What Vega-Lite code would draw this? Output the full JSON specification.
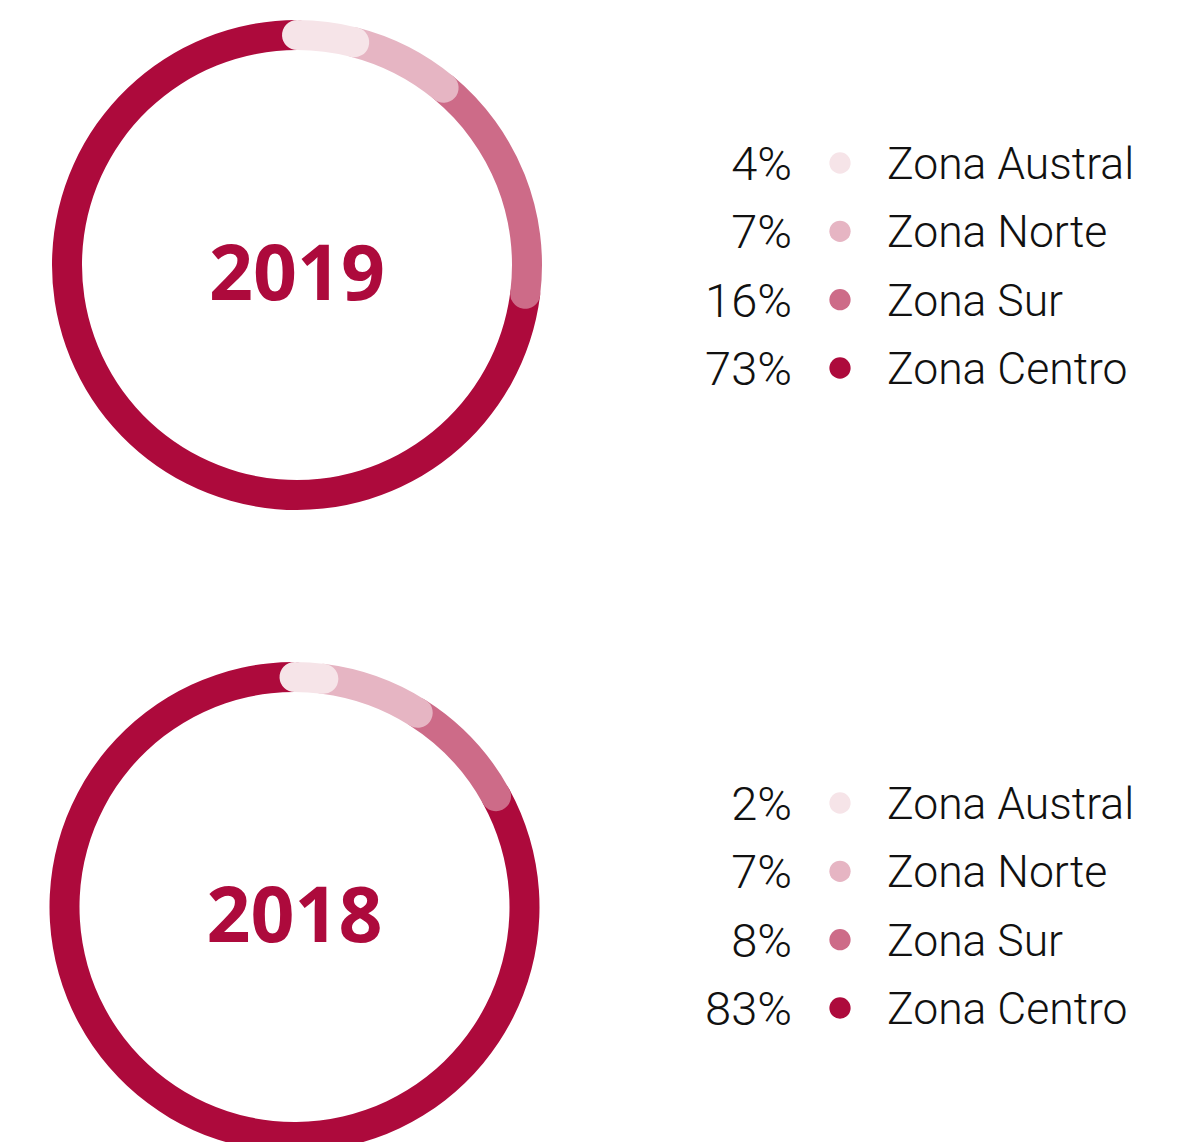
{
  "$schema": "https://vega.github.io/schema/vega-lite/v6.json",
  "padding": 0,
  "background": "white",
  "config": {"view": {"stroke": null}},
  "data": {"values": [
    {"year": 2019, "zone": "Zona Austral", "share": 0.04, "ord": 1},
    {"year": 2019, "zone": "Zona Norte", "share": 0.07, "ord": 2},
    {"year": 2019, "zone": "Zona Sur", "share": 0.16, "ord": 3},
    {"year": 2019, "zone": "Zona Centro", "share": 0.73, "ord": 4},
    {"year": 2018, "zone": "Zona Austral", "share": 0.02, "ord": 1},
    {"year": 2018, "zone": "Zona Norte", "share": 0.07, "ord": 2},
    {"year": 2018, "zone": "Zona Sur", "share": 0.08, "ord": 3},
    {"year": 2018, "zone": "Zona Centro", "share": 0.83, "ord": 4}
  ]},
  "spacing": 112,
  "vconcat": [
    {
      "bounds": "flush",
      "spacing": 196,
      "hconcat": [
        {
          "width": 594, "height": 530,
          "transform": [
            {"filter": "datum.year == 2019"},
            {"stack": "share", "groupby": ["year"], "sort": [{"field": "ord", "order": "ascending"}], "as": ["s", "e"]}
          ],
          "layer": [
            {
              "mark": {"type": "arc", "innerRadius": 215, "outerRadius": 245, "cornerRadius": 15, "thetaOffset": -0.0652, "theta2Offset": 0.0652},
              "encoding": {
                "theta": {"field": "s", "type": "quantitative", "scale": {"domain": [0, 1]}},
                "theta2": {"field": "e"},
                "color": {"field": "zone", "type": "nominal", "scale": {"domain": ["Zona Austral", "Zona Norte", "Zona Sur", "Zona Centro"], "range": ["#f6e4e8", "#e6b5c3", "#cd6b88", "#ad0a3c"]}, "legend": null},
                "order": {"field": "ord", "sort": "descending"}
              }
            },
            {
              "transform": [{"filter": "datum.ord == 1"}],
              "mark": {"type": "text", "font": "Open Sans", "fontWeight": "bold", "fontSize": 77, "color": "#ad0a3c", "baseline": "middle", "align": "center", "dy": 12},
              "encoding": {"text": {"field": "year", "type": "nominal"}}
            }
          ]
        },
        {
          "width": 100, "height": 530,
          "transform": [{"filter": "datum.year == 2019"}],
          "encoding": {
            "y": {"field": "zone", "type": "nominal", "sort": ["Zona Austral", "Zona Norte", "Zona Sur", "Zona Centro"], "scale": {"type": "point", "padding": 0, "range": [163, 368]}, "axis": null}
          },
          "layer": [
            {
              "mark": {"type": "text", "align": "right", "baseline": "middle", "font": "Roboto", "fontWeight": 300, "fontSize": 47, "color": "#111111", "dx": 2, "dy": 3},
              "encoding": {
                "x": {"datum": "pct", "type": "nominal", "scale": {"type": "point", "domain": ["pct", "dot", "label"], "padding": 0}, "axis": null},
                "text": {"field": "share", "type": "quantitative", "format": ".0%"}
              }
            },
            {
              "mark": {"type": "circle", "size": 452, "opacity": 1},
              "encoding": {
                "x": {"datum": "dot", "type": "nominal"},
                "color": {"field": "zone", "type": "nominal", "scale": {"domain": ["Zona Austral", "Zona Norte", "Zona Sur", "Zona Centro"], "range": ["#f6e4e8", "#e6b5c3", "#cd6b88", "#ad0a3c"]}, "legend": null}
              }
            },
            {
              "mark": {"type": "text", "align": "left", "baseline": "middle", "font": "Roboto", "fontWeight": 300, "fontSize": 44.5, "color": "#111111", "dx": -3, "dy": 3},
              "encoding": {
                "x": {"datum": "label", "type": "nominal"},
                "text": {"field": "zone", "type": "nominal"}
              }
            }
          ]
        }
      ]
    },
    {
      "bounds": "flush",
      "spacing": 201,
      "hconcat": [
        {
          "width": 589, "height": 530,
          "transform": [
            {"filter": "datum.year == 2018"},
            {"stack": "share", "groupby": ["year"], "sort": [{"field": "ord", "order": "ascending"}], "as": ["s", "e"]}
          ],
          "layer": [
            {
              "mark": {"type": "arc", "innerRadius": 215, "outerRadius": 245, "cornerRadius": 15, "thetaOffset": -0.0652, "theta2Offset": 0.0652},
              "encoding": {
                "theta": {"field": "s", "type": "quantitative", "scale": {"domain": [0, 1]}},
                "theta2": {"field": "e"},
                "color": {"field": "zone", "type": "nominal", "scale": {"domain": ["Zona Austral", "Zona Norte", "Zona Sur", "Zona Centro"], "range": ["#f6e4e8", "#e6b5c3", "#cd6b88", "#ad0a3c"]}, "legend": null},
                "order": {"field": "ord", "sort": "descending"}
              }
            },
            {
              "transform": [{"filter": "datum.ord == 1"}],
              "mark": {"type": "text", "font": "Open Sans", "fontWeight": "bold", "fontSize": 77, "color": "#ad0a3c", "baseline": "middle", "align": "center", "dy": 12},
              "encoding": {"text": {"field": "year", "type": "nominal"}}
            }
          ]
        },
        {
          "width": 100, "height": 530,
          "transform": [{"filter": "datum.year == 2018"}],
          "encoding": {
            "y": {"field": "zone", "type": "nominal", "sort": ["Zona Austral", "Zona Norte", "Zona Sur", "Zona Centro"], "scale": {"type": "point", "padding": 0, "range": [161, 366]}, "axis": null}
          },
          "layer": [
            {
              "mark": {"type": "text", "align": "right", "baseline": "middle", "font": "Roboto", "fontWeight": 300, "fontSize": 47, "color": "#111111", "dx": 2, "dy": 3},
              "encoding": {
                "x": {"datum": "pct", "type": "nominal", "scale": {"type": "point", "domain": ["pct", "dot", "label"], "padding": 0}, "axis": null},
                "text": {"field": "share", "type": "quantitative", "format": ".0%"}
              }
            },
            {
              "mark": {"type": "circle", "size": 452, "opacity": 1},
              "encoding": {
                "x": {"datum": "dot", "type": "nominal"},
                "color": {"field": "zone", "type": "nominal", "scale": {"domain": ["Zona Austral", "Zona Norte", "Zona Sur", "Zona Centro"], "range": ["#f6e4e8", "#e6b5c3", "#cd6b88", "#ad0a3c"]}, "legend": null}
              }
            },
            {
              "mark": {"type": "text", "align": "left", "baseline": "middle", "font": "Roboto", "fontWeight": 300, "fontSize": 44.5, "color": "#111111", "dx": -3, "dy": 3},
              "encoding": {
                "x": {"datum": "label", "type": "nominal"},
                "text": {"field": "zone", "type": "nominal"}
              }
            }
          ]
        }
      ]
    }
  ]
}
